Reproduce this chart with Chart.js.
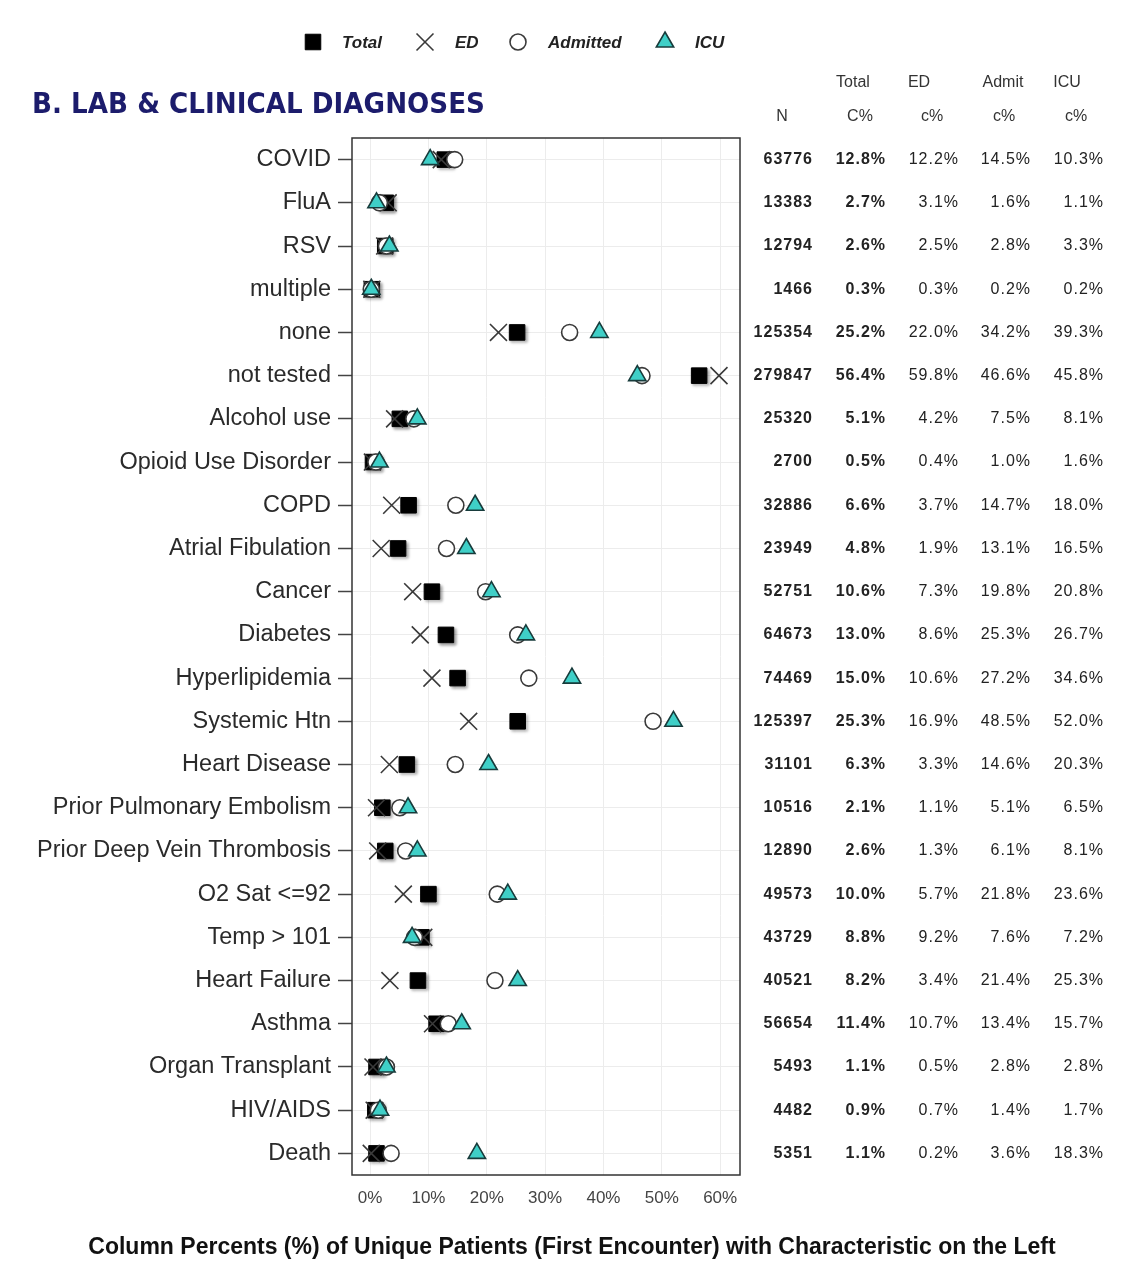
<!DOCTYPE html>
<html>
<head>
<meta charset="utf-8">
<script src="https://cdn.jsdelivr.net/npm/chart.js@4.4.1/dist/chart.umd.min.js"></script>
<style>
	html, body { margin: 0; padding: 0; background: #fff; }
	canvas { display: block; }
</style>
</head>
<body>
<canvas id="labChart" width="1125" height="1280"></canvas>
<script>
// rows, top to bottom
const categories = ['COVID', 'FluA', 'RSV', 'multiple', 'none', 'not tested', 'Alcohol use',
	'Opioid Use Disorder', 'COPD', 'Atrial Fibulation', 'Cancer', 'Diabetes', 'Hyperlipidemia',
	'Systemic Htn', 'Heart Disease', 'Prior Pulmonary Embolism', 'Prior Deep Vein Thrombosis',
	'O2 Sat <=92', 'Temp > 101', 'Heart Failure', 'Asthma', 'Organ Transplant', 'HIV/AIDS', 'Death'];
const nCounts = [63776, 13383, 12794, 1466, 125354, 279847, 25320, 2700, 32886, 23949, 52751, 64673,
	74469, 125397, 31101, 10516, 12890, 49573, 43729, 40521, 56654, 5493, 4482, 5351];
const totalPct = [12.8, 2.7, 2.6, 0.3, 25.2, 56.4, 5.1, 0.5, 6.6, 4.8, 10.6, 13.0, 15.0, 25.3, 6.3, 2.1, 2.6, 10.0, 8.8, 8.2, 11.4, 1.1, 0.9, 1.1];
const edPct = [12.2, 3.1, 2.5, 0.3, 22.0, 59.8, 4.2, 0.4, 3.7, 1.9, 7.3, 8.6, 10.6, 16.9, 3.3, 1.1, 1.3, 5.7, 9.2, 3.4, 10.7, 0.5, 0.7, 0.2];
const admitPct = [14.5, 1.6, 2.8, 0.2, 34.2, 46.6, 7.5, 1.0, 14.7, 13.1, 19.8, 25.3, 27.2, 48.5, 14.6, 5.1, 6.1, 21.8, 7.6, 21.4, 13.4, 2.8, 1.4, 3.6];
const icuPct = [10.3, 1.1, 3.3, 0.2, 39.3, 45.8, 8.1, 1.6, 18.0, 16.5, 20.8, 26.7, 34.6, 52.0, 20.3, 6.5, 8.1, 23.6, 7.2, 25.3, 15.7, 2.8, 1.7, 18.3];
const xTicks = [0, 10, 20, 30, 40, 50, 60];

const pct = v => v.toFixed(1) + '%';

let canvas = document.getElementById('labChart');

let seriesStyles = [
	{ label: 'Total', data: totalPct, pointStyle: 'rect', radius: 11, bg: '#000', border: '#000', bw: 1 },
	{ label: 'ED', data: edPct, pointStyle: 'crossRot', radius: 12, bg: 'rgba(0,0,0,0)', border: '#3a3a3a', bw: 1.6 },
	{ label: 'Admitted', data: admitPct, pointStyle: 'circle', radius: 8, bg: '#fff', border: '#3a3a3a', bw: 1.6 },
	{ label: 'ICU', data: icuPct, pointStyle: 'triangle', radius: 10, bg: '#3fcfc7', border: '#183c3c', bw: 1.6 }
];

let datasets = seriesStyles.map(function(s, i) {
	return {
		label: s.label,
		data: s.data,
		showLine: false,
		pointStyle: s.pointStyle,
		pointRadius: s.radius,
		pointHoverRadius: s.radius,
		pointBackgroundColor: s.bg,
		pointBorderColor: s.border,
		pointBorderWidth: s.bw,
		order: 4 - i
	};
});

// title, legend, frame, table and axis caption
const decorPlugin = {
	id: 'decor',
	beforeDatasetDraw(chart, args) {
		if (args.index === 0) {
			let ctx = chart.ctx;
			ctx.save();
			ctx.shadowColor = 'rgba(0,0,0,0.35)';
			ctx.shadowBlur = 3;
			ctx.shadowOffsetX = 2;
			ctx.shadowOffsetY = 2;
		}
	},
	afterDatasetDraw(chart, args) {
		if (args.index === 0) chart.ctx.restore();
	},
	afterDraw(chart) {
		let ctx = chart.ctx;
		let area = chart.chartArea;
		let yScale = chart.scales.y;

		// frame
		ctx.save();
		ctx.strokeStyle = '#333';
		ctx.lineWidth = 1.5;
		ctx.strokeRect(area.left, area.top, area.right - area.left, area.bottom - area.top);
		ctx.restore();

		// title
		ctx.save();
		ctx.fillStyle = '#1c1c6c';
		ctx.font = 'bold 28px "DejaVu Sans"';
		ctx.textBaseline = 'alphabetic';
		let titleText = 'B. LAB & CLINICAL DIAGNOSES';
		let tw = ctx.measureText(titleText).width;
		ctx.translate(32, 113);
		ctx.scale(453 / tw, 1);
		ctx.fillText(titleText, 0, 0);
		ctx.restore();

		// legend
		ctx.save();
		let legendX = [313, 425, 518, 665];
		let legendTextX = [342, 455, 548, 695];
		seriesStyles.forEach(function(s, i) {
			ctx.fillStyle = s.bg;
			ctx.strokeStyle = s.border;
			ctx.lineWidth = s.bw;
			Chart.helpers.drawPoint(ctx, { pointStyle: s.pointStyle, radius: s.radius, rotation: 0, borderWidth: s.bw }, legendX[i], 42);
			ctx.fillStyle = '#222';
			ctx.font = 'italic bold 17px "Liberation Sans", Arial';
			ctx.textBaseline = 'middle';
			ctx.textAlign = 'left';
			ctx.fillText(s.label, legendTextX[i], 43);
		});
		ctx.restore();

		// table
		ctx.save();
		ctx.fillStyle = '#333';
		ctx.font = '16px "Liberation Sans", Arial';
		ctx.textBaseline = 'middle';
		ctx.textAlign = 'center';
		let head1 = [['Total', 853], ['ED', 919], ['Admit', 1003], ['ICU', 1067]];
		head1.forEach(h => ctx.fillText(h[0], h[1], 83));
		let head2 = [['N', 782], ['C%', 860], ['c%', 932], ['c%', 1004], ['c%', 1076]];
		head2.forEach(h => ctx.fillText(h[0], h[1], 117));

		let colRight = [813, 886, 959, 1031, 1104];
		ctx.textAlign = 'right';
		ctx.fillStyle = '#222';
		ctx.letterSpacing = '1px';
		categories.forEach(function(c, i) {
			let y = yScale.getPixelForValue(i);
			let cells = [String(nCounts[i]), pct(totalPct[i]), pct(edPct[i]), pct(admitPct[i]), pct(icuPct[i])];
			cells.forEach(function(t, j) {
				ctx.font = (j < 2 ? 'bold ' : '') + '16px "Liberation Sans", Arial';
				ctx.fillText(t, colRight[j], y);
			});
		});
		ctx.restore();

		// axis caption
		ctx.save();
		ctx.fillStyle = '#111';
		ctx.font = 'bold 23px "Liberation Sans", Arial';
		ctx.textAlign = 'center';
		ctx.textBaseline = 'middle';
		ctx.fillText('Column Percents (%) of Unique Patients (First Encounter) with Characteristic on the Left', 572, 1248);
		ctx.restore();
	}
};

new Chart(canvas, {
	type: 'line',
	data: {
		labels: categories,
		datasets: datasets
	},
	options: {
		responsive: false,
		animation: false,
		indexAxis: 'y',
		layout: {
			padding: { left: 0, top: 138, right: 385, bottom: 0 }
		},
		plugins: {
			legend: { display: false },
			tooltip: { enabled: false }
		},
		scales: {
			x: {
				type: 'linear',
				min: -3.1,
				max: 63.4,
				afterBuildTicks: function(scale) {
					scale.ticks = xTicks.map(v => ({ value: v }));
				},
				afterFit: function(scale) {
					scale.height = 105;
				},
				border: { display: false },
				grid: { color: '#ececec', drawTicks: false },
				ticks: {
					padding: 13,
					color: '#444',
					font: { family: '"Liberation Sans", Arial', size: 17 },
					callback: v => v + '%'
				}
			},
			y: {
				type: 'category',
				offset: true,
				afterFit: function(scale) {
					scale.width = 352;
				},
				border: { display: false },
				grid: { color: '#ececec', tickColor: '#444', tickLength: 14, tickWidth: 1.5 },
				ticks: {
					padding: 7,
					color: '#2a2a2a',
					font: { family: '"Liberation Sans", Arial', size: 23.5 }
				}
			}
		}
	},
	plugins: [decorPlugin]
});
</script>
</body>
</html>
